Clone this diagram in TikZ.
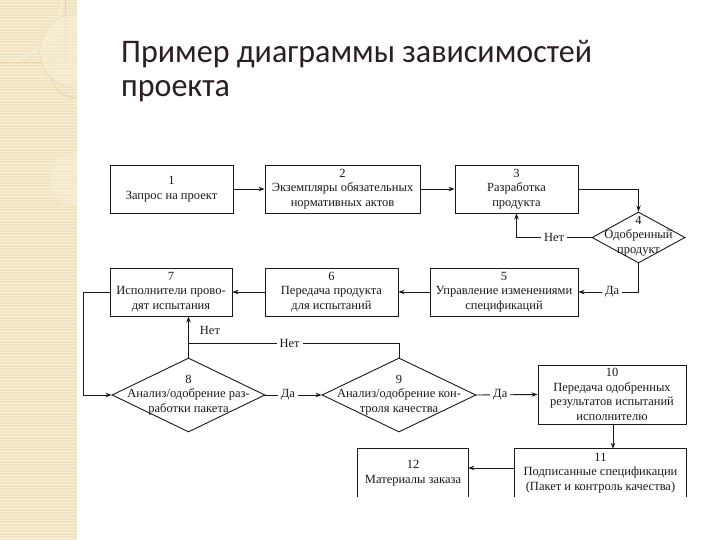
\documentclass[tikz,border=0pt]{standalone}
\usepackage{fontspec}
\setmainfont{Liberation Serif}
\newfontfamily\titlefont{Carlito}
\usetikzlibrary{shapes.geometric,arrows.meta,calc}
\definecolor{stripbg}{HTML}{EFE3C1}
\definecolor{stripline}{HTML}{F7EFD8}
\definecolor{stripdark}{HTML}{E3D3A6}
\definecolor{titlecol}{HTML}{2E1F1F}
\definecolor{ink}{HTML}{1A1A1A}
\tikzset{
  dfont/.style={font=\fontsize{12.5}{14.5}\selectfont},
  box/.style={draw=ink, line width=0.9pt, align=center, inner sep=1pt, text=ink, dfont},
  openbox/.style={align=center, inner sep=1pt, text=ink, dfont},
  dia/.style={draw=ink, diamond, line width=0.9pt, inner sep=0pt},
  diatext/.style={align=center, inner sep=0pt, text=ink, dfont},
  arr/.style={draw=ink, line width=0.9pt, -{Stealth[length=6pt,width=4.5pt]}},
  ln/.style={draw=ink, line width=0.9pt},
  lbl/.style={fill=white, inner sep=3pt, text=ink, dfont},
  ttl/.style={anchor=base west, inner sep=0pt, text=titlecol, font=\titlefont\fontsize{33}{34}\selectfont},
}
\begin{document}
\begin{tikzpicture}[x=1pt,y=-1pt]
\useasboundingbox (0,0) rectangle (720,540);
\fill[white] (0,0) rectangle (720,540);
% decorative strip
\fill[stripbg] (0,0) rectangle (77,540);
\foreach \yy in {1.5,4.5,...,540} {\draw[stripline, line width=0.7pt] (0,\yy) -- (77,\yy);}
\draw[stripdark, line width=0.6pt] (0,62) -- (65,62) -- (65,0);
\draw[stripline, line width=1.5pt] (62,0) .. controls (60,30) and (40,55) .. (10,62);
\draw[stripdark, line width=0.6pt] (77,88) arc[start angle=90, end angle=270, radius=37];
\draw[stripdark, line width=0.6pt] (77,98) arc[start angle=90, end angle=270, radius=27];
\fill[stripline, opacity=0.6] (77,88) arc[start angle=90, end angle=270, radius=37] -- (77,152) arc[start angle=270, end angle=90, radius=27] -- cycle;
% title
\node[ttl] (t1) at (121,63) {\scalebox{0.97}[1]{Пример диаграммы зависимостей}};
\node[ttl] (t2) at (121,97) {\scalebox{0.97}[1]{проекта}};
% nodes
\node[box, minimum width=123, minimum height=48] (b1) at (171.5,189) {1\\Запрос на проект};
\node[box, minimum width=155, minimum height=48] (b2) at (342.5,189) {2\\Экземпляры обязательных\\нормативных актов};
\node[box, minimum width=123, minimum height=48] (b3) at (516.5,189) {3\\Разработка\\продукта};
\node[dia, minimum width=93, minimum height=51] (d4) at (638.5,237.5) {};
\node[diatext] (d4t) at (638.5,236) {4\\Одобренный\\продукт};
\node[box, minimum width=148, minimum height=48] (b5) at (504,292) {5\\Управление изменениями\\спецификаций};
\node[box, minimum width=133, minimum height=48] (b6) at (331.5,292) {6\\Передача продукта\\для испытаний};
\node[box, minimum width=122, minimum height=48] (b7) at (171,292) {7\\Исполнители прово-\\дят испытания};
\node[dia, minimum width=153, minimum height=74] (d8) at (188.5,395) {};
\node[diatext] (d8t) at (d8) {8\\Анализ/одобрение раз-\\работки пакета};
\node[dia, minimum width=154, minimum height=74] (d9) at (399,395) {};
\node[diatext] (d9t) at (d9) {9\\Анализ/одобрение кон-\\троля качества};
\node[box, minimum width=148, minimum height=59] (b10) at (612,394.5) {10\\Передача одобренных\\результатов испытаний\\исполнителю};
\node[openbox, minimum width=171, minimum height=48] (b11) at (600.5,473) {11\\Подписанные спецификации\\(Пакет и контроль качества)};
\node[openbox, minimum width=110, minimum height=48] (b12) at (413,473) {12\\Материалы заказа};
\draw[ln] (b11.south west) -- (b11.north west) -- (b11.north east) -- (b11.south east);
\draw[ln] (b12.south west) -- (b12.north west) -- (b12.north east) -- (b12.south east);
\coordinate (j) at (188.5,343);
% connectors
\draw[arr] (b1.east) -- (b2.west);
\draw[arr] (b2.east) -- (b3.west);
\draw[arr] (b3.east) -| (d4.north);
\draw[arr] (d4.west) -| node[lbl, pos=0.25] {Нет} (b3.south);
\draw[arr] (d4.south) |- node[lbl, pos=0.72] {Да} (b5.east);
\draw[arr] (b5.west) -- (b6.east);
\draw[arr] (b6.west) -- (b7.east);
\draw[arr] (b7.west) -- ++(-26,0) |- (d8.west);
\draw[arr] (d8.north) -- node[right, pos=0.65, inner sep=0pt, xshift=11pt, text=ink, dfont] {Нет} (d8.north |- b7.south);
\draw[ln] (d9.north) |- node[lbl, pos=0.76] {Нет} (j);
\draw[arr] (d8.east) -- node[lbl, pos=0.4] {Да} (d9.west);
\draw[arr] (d9.east) -- node[lbl, pos=0.39] {Да} (b10.west);
\draw[arr] (b10.south -| 613,0) -- (b11.north -| 613,0);
\draw[arr] ([yshift=5]b11.west) -- ([yshift=5]b12.east);
\end{tikzpicture}
\end{document}
